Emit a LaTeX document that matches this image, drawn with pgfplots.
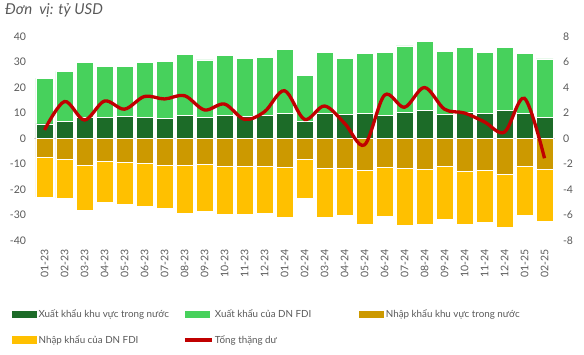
\documentclass[border=0pt]{standalone}
\usepackage{pgfplots}
\usepackage{pgfplotstable}
\pgfplotsset{compat=1.18}
\usepackage{fontspec}
\setmainfont{Lato}
\definecolor{dkgreen}{HTML}{1C6B28}
\definecolor{ltgreen}{HTML}{47D15C}
\definecolor{dkgold}{HTML}{CC9900}
\definecolor{yel}{HTML}{FFC000}
\definecolor{redl}{HTML}{C00000}
\definecolor{txt}{HTML}{595959}
\pgfplotsset{
  legsq/.style={legend image code/.code={\fill[##1, draw=none] (0pt,-3.8pt) rectangle (25pt,3.8pt);}},
  legln/.style={legend image code/.code={\draw[##1] (0pt,0pt) -- (27pt,0pt);}},
  base/.style={
    at={(34.5pt,113.5pt)}, anchor=south west, scale only axis,
    width=520pt, height=204pt, xmin=-0.5, xmax=25.5,
    major tick length=0pt, axis line style={draw=none},
    tick label style={font=\fontsize{10.5}{12}\selectfont, text=txt},
    /pgf/number format/assume math mode=true,
  }
}
\pgfplotstableread{
x dx fx dm fm bal
0 5.7 18.0 -7.4 -15.5 0.67
1 6.6 19.7 -8.2 -15.1 2.9
2 8.3 21.7 -10.4 -17.9 1.45
3 8.2 20.1 -9.1 -16.1 2.94
4 8.6 19.8 -9.3 -16.7 2.3
5 8.2 21.8 -9.6 -17.0 3.3
6 7.9 22.4 -10.4 -16.9 3.1
7 9.1 23.9 -10.7 -18.8 3.36
8 8.2 22.6 -10.0 -18.7 2.24
9 9.1 23.4 -10.8 -18.9 2.7
10 8.8 22.6 -10.8 -19.1 1.5
11 9.2 22.5 -10.9 -18.6 2.1
12 9.7 25.1 -11.2 -19.7 3.75
13 6.6 18.2 -8.0 -15.3 1.5
14 9.7 24.1 -11.7 -19.3 2.55
15 9.3 22.1 -11.6 -18.4 1.2
16 9.7 23.7 -12.6 -21.2 -0.5
17 9.2 24.7 -11.2 -19.3 3.4
18 10.1 26.2 -11.8 -22.1 2.45
19 11.0 27.0 -12.1 -21.7 4.0
20 9.6 24.6 -10.9 -20.8 2.3
21 10.4 25.4 -12.7 -20.8 2.0
22 9.9 23.9 -12.4 -20.3 1.3
23 10.9 24.7 -13.9 -21.1 0.5
24 9.7 23.7 -10.9 -19.2 3.15
25 8.3 22.9 -12.0 -20.6 -1.55
}\data
\begin{document}
\begin{tikzpicture}
\path[use as bounding box] (0,0) rectangle (584pt,354pt);
\node[anchor=base west, inner sep=0, text=txt, font=\fontsize{15}{17}\selectfont\itshape] at (5pt,339pt) {Đơn\ \ vị: tỷ USD};
\begin{axis}[base, ymin=-40, ymax=40, ytick={-40,-30,...,40},
  ybar stacked, bar width=17pt,
  xtick={0,...,25},
  xticklabels={01-23,02-23,03-23,04-23,05-23,06-23,07-23,08-23,09-23,10-23,11-23,12-23,01-24,02-24,03-24,04-24,05-24,06-24,07-24,08-24,09-24,10-24,11-24,12-24,01-25,02-25},
  xticklabel style={rotate=90, anchor=east, yshift=0pt, xshift=-5pt},
  yticklabel style={xshift=-5pt},
  extra y ticks={0}, extra y tick labels={},
  extra y tick style={grid=major, major grid style={draw=gray!35, line width=1pt}},
]
\addplot[fill=dkgreen, draw=white, line width=0.7pt] table[x=x,y=dx]{\data};
\addplot[fill=ltgreen, draw=white, line width=0.7pt] table[x=x,y=fx]{\data};
\end{axis}
\begin{axis}[base, ymin=-40, ymax=40, ybar stacked, bar width=17pt, hide axis]
\addplot[fill=dkgold, draw=white, line width=0.7pt] table[x=x,y=dm]{\data};
\addplot[fill=yel, draw=white, line width=0.7pt] table[x=x,y=fm]{\data};
\end{axis}
\begin{axis}[base, ymin=-8, ymax=8, ytick={-8,-6,...,8},
  axis y line*=right, axis x line=none,
  yticklabel style={xshift=5pt},
  legend columns=3,
  legend style={at={(-0.0433,-0.331)}, anchor=north west, draw=none, fill=none,
    inner sep=0pt, font=\fontsize{9.8}{11}\selectfont, text=txt,
    column sep=0pt, row sep=13pt,
    nodes={inner sep=1.5pt}},
  legend cell align=left,
]
\addlegendimage{legsq, fill=dkgreen}
\addlegendentry{\makebox[143pt][l]{Xuất khẩu khu vực trong nước}}
\addlegendimage{legsq, fill=ltgreen}
\addlegendentry{\makebox[143pt][l]{Xuất khẩu của DN FDI}}
\addlegendimage{legsq, fill=dkgold}
\addlegendentry{Nhập khẩu khu vực trong nước}
\addlegendimage{legsq, fill=yel}
\addlegendentry{\makebox[143pt][l]{Nhập khẩu của DN FDI}}
\addplot[legln, draw=redl, line width=3.3pt, smooth, tension=0.55] table[x=x,y=bal]{\data};
\addlegendentry{Tổng thặng dư}
\end{axis}
\end{tikzpicture}
\end{document}
